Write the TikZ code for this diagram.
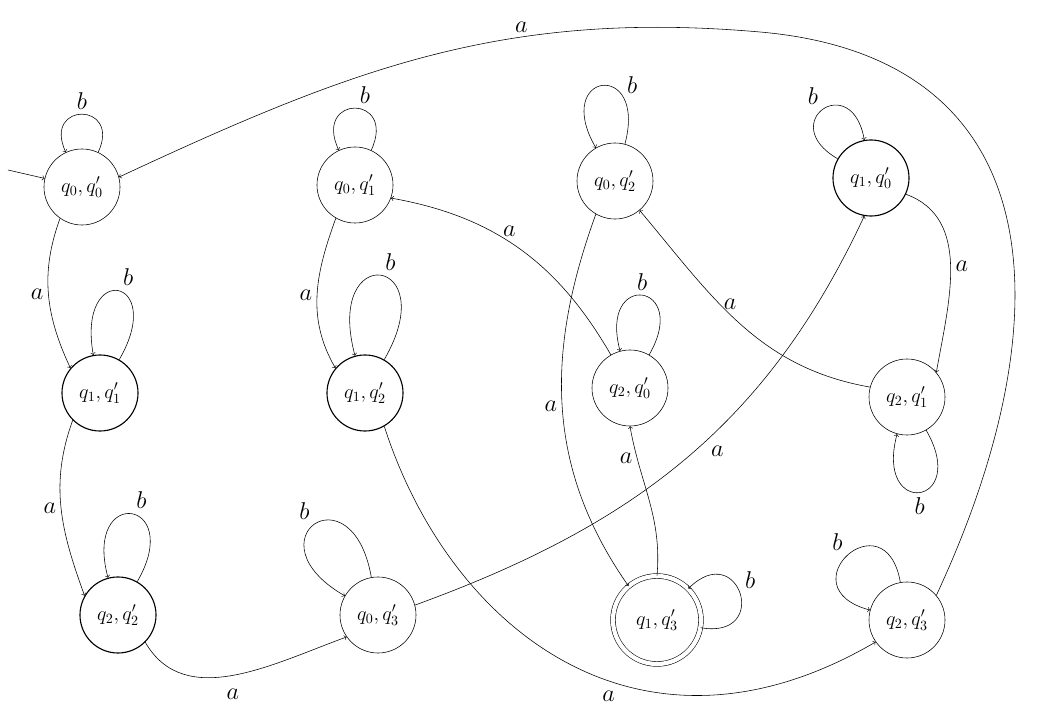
\documentclass[tikz,border=0pt]{standalone}
\usetikzlibrary{positioning}
\begin{document}
\begin{tikzpicture}[x=0.025cm,y=0.025cm,
  state/.style={circle,draw,thin,minimum size=1.9cm,inner sep=0pt,font=\Large},
  bold/.style={state,thick},
  final/.style={state,double,double distance=3pt,minimum size=2.2cm},
  edge/.style={->,thin},
  lab/.style={font=\LARGE},
  loopb/.style={->,thin,looseness=1,min distance=#1}]
\useasboundingbox (0,0) rectangle (1055,-715);
% states, top row to bottom row
\node[state] (s00) at (82,-187) {$q_0,q_0'$};
\node[state] (s01) at (355,-185) {$q_0,q_1'$};
\node[state] (s02) at (615,-181) {$q_0,q_2'$};
\node[bold] (s10) at (871,-178) {$q_1,q_0'$};
\node[bold] (s11) at (100,-393) {$q_1,q_1'$};
\node[bold] (s12) at (365,-393) {$q_1,q_2'$};
\node[state] (s20) at (630,-388) {$q_2,q_0'$};
\node[state] (s21) at (907,-397) {$q_2,q_1'$};
\node[bold] (s22) at (118,-615) {$q_2,q_2'$};
\node[state] (s03) at (378,-615) {$q_0,q_3'$};
\node[final] (s13) at (657,-620) {$q_1,q_3'$};
\node[state] (s23) at (907,-620) {$q_2,q_3'$};
% start and a waypoint for the long arc
\coordinate (start) at (8,-170);
\coordinate (top) at (760,-32);
\draw[edge] (start) -- (s00);
% loops on b
\draw[loopb=1.4cm] (s00) to[out=65,in=115] node[lab,above] (b00) {$b$} (s00);
\draw[loopb=1.55cm] (s01) to[out=65,in=115] node[lab,above right] (b01) {$b$} (s01);
\draw[loopb=2.2cm] (s02) to[out=75,in=120] node[lab,right=14pt] (b02) {$b$} (s02);
\draw[loopb=1.8cm] (s10) to[out=150,in=100] node[lab,above left] (b10) {$b$} (s10);
\draw[loopb=2.4cm] (s11) to[out=60,in=100] node[lab,above right] (b11) {$b$} (s11);
\draw[loopb=3.0cm] (s12) to[out=60,in=105] node[lab,above right] (b12) {$b$} (s12);
\draw[loopb=2.1cm] (s20) to[out=60,in=105] node[lab,above] (b20) {$b$} (s20);
\draw[loopb=2.2cm] (s21) to[out=-60,in=-105] node[lab,below] (b21) {$b$} (s21);
\draw[loopb=2.4cm] (s22) to[out=60,in=105] node[lab,above right] (b22) {$b$} (s22);
\draw[loopb=2.8cm] (s03) to[out=100,in=150] node[lab,above left] (b03) {$b$} (s03);
\draw[loopb=1.8cm] (s13) to[out=-10,in=45] node[lab,above right] (b13) {$b$} (s13);
\draw[loopb=2.2cm] (s23) to[out=100,in=165] node[lab,above left] (b23) {$b$} (s23);
% transitions on a
\draw[edge] (s00.235) to[out=250,in=115] node[lab,left] (a1) {$a$} (s11.140);
\draw[edge] (s11.225) to[out=250,in=110] node[lab,left] (a2) {$a$} (s22.150);
\draw[edge] (s22.-45) to[out=-60,in=200] node[lab,below=6pt] (a3) {$a$} (s03.215);
\draw[edge] (s03.15) to[out=20,in=245] node[lab,pos=0.55,below right] (a4) {$a$} (s10.260);
\draw[edge] (s10.-25) to[out=-20,in=80] node[lab,right] (a5) {$a$} (s21.40);
\draw[edge] (s21.165) to[out=170,in=-50] node[lab,pos=0.55,above] (a6) {$a$} (s02.-50);
\draw[edge] (s02.240) to[out=250,in=125] node[lab,pos=0.5,left] (a7) {$a$} (s13.130);
\draw[edge] (s13.90) to[out=85,in=-80] node[lab,pos=0.8,left] (a8) {$a$} (s20.-90);
\draw[edge] (s20.120) to[out=120,in=-10] node[lab,pos=0.55,above] (a9) {$a$} (s01.-20);
\draw[edge] (s01.240) to[out=250,in=120] node[lab,left] (a10) {$a$} (s12.140);
\draw[edge] (s12.-60) .. controls (450,-630) and (640,-780) .. node[lab,pos=0.58,below=4pt] (a11) {$a$} (s23.215);
\draw[edge] (s23.40) to[out=65,in=-5,looseness=1.3] (top)
  to[out=175,in=25] node[lab,pos=0.35,above] (a12) {$a$} (s00.15);
\end{tikzpicture}
\end{document}
